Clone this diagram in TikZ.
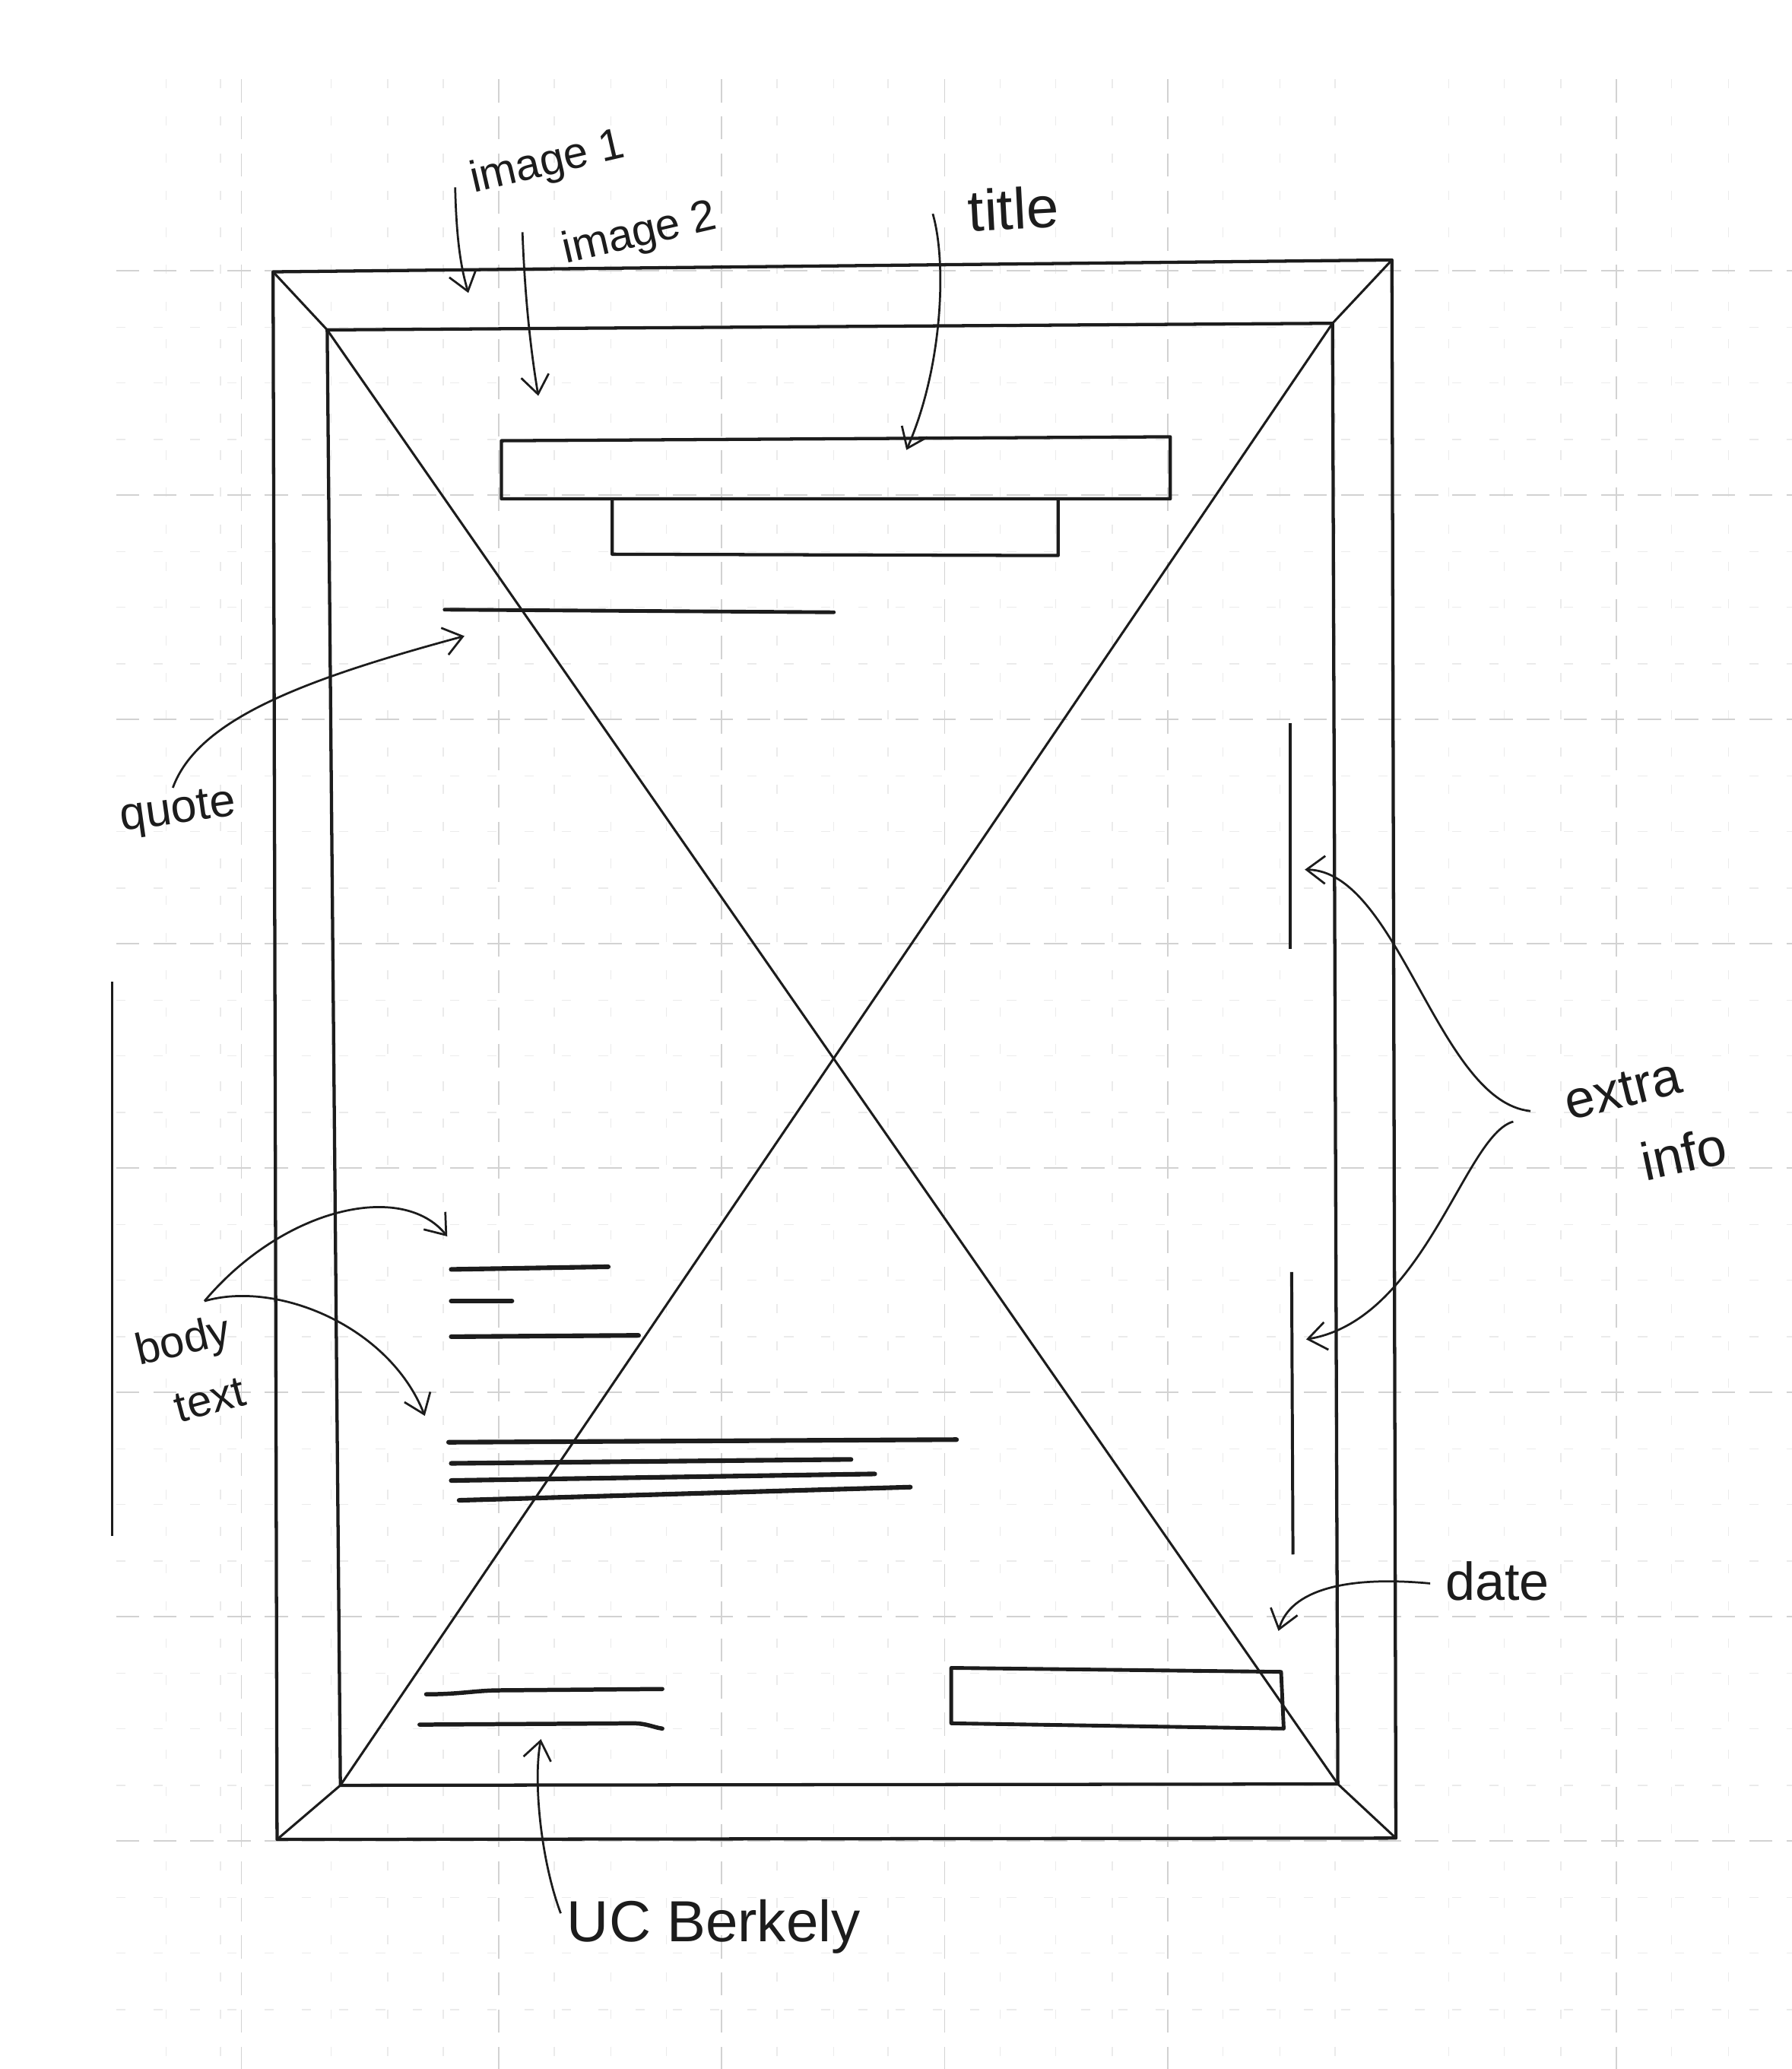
\documentclass[tikz,border=0pt]{standalone}
\usepackage{fontspec}
\setmainfont{Liberation Sans}
\usetikzlibrary{arrows.meta}
\definecolor{ink}{HTML}{1C1C1C}
\definecolor{gridc}{HTML}{D2D2D2}
\definecolor{gridm}{HTML}{EBEBEB}
\begin{document}
\begin{tikzpicture}[x=0.01cm,y=-0.01cm,
  frame/.style={draw=ink,line width=0.7pt,line join=round},
  xline/.style={draw=ink,line width=0.5pt},
  bar/.style={draw=ink,line width=1.0pt,line cap=round},
  pen/.style={draw=ink,line width=0.45pt,-{Straight Barb[length=4pt,width=6pt]}},
  lbl/.style={text=ink,inner sep=0pt},
  gridmaj/.style={draw=gridc,line width=0.25pt,dash pattern=on 5pt off 3pt},
  gridmin/.style={draw=gridm,line width=0.25pt,dash pattern=on 2pt off 6pt}]

\useasboundingbox (0,0) rectangle (1358,1568);
\fill[white] (0,0) rectangle (1358,1568);

% faint graph-paper grid
\foreach \x in {126,167,251,294,336,420,463,505,589,632,673,758,800,843,927,970,1012,1098,1140,1183,1267,1310}
  \draw[gridmin] (\x,60) -- (\x,1568);
\foreach \y in {248,290,333,418,460,503,588,630,673,758,800,843,928,970,1013,1098,1140,1183,1268,1310,1353,1438,1480,1523}
  \draw[gridmin] (88,\y) -- (1358,\y);
\foreach \x in {183,378,547,716,885,1225}
  \draw[gridmaj] (\x,60) -- (\x,1568);
\foreach \y in {205,375,545,715,885,1055,1225,1395}
  \draw[gridmaj] (88,\y) -- (1358,\y);

% paper edge line
\coordinate (e1) at (85,744);
\coordinate (e2) at (85,1164);
\draw[ink,line width=0.45pt] (e1) -- (e2);

% frame corners
\coordinate (o1) at (207,206);
\coordinate (o2) at (1055,197);
\coordinate (o3) at (1058,1393);
\coordinate (o4) at (210,1394);
\coordinate (i1) at (248,250);
\coordinate (i2) at (1010,245);
\coordinate (i3) at (1014,1352);
\coordinate (i4) at (258,1353);

\draw[frame] (o1) -- (o2) -- (o3) -- (o4) -- cycle;
\draw[frame] (i1) -- (i2) -- (i3) -- (i4) -- cycle;
\draw[xline] (o1) -- (i1);
\draw[xline] (o2) -- (i2);
\draw[xline] (o3) -- (i3);
\draw[xline] (o4) -- (i4);
\draw[xline] (i1) -- (i3);
\draw[xline] (i2) -- (i4);

% title boxes
\coordinate (t1) at (380,334);
\coordinate (t2) at (887,331);
\coordinate (t3) at (887,378);
\coordinate (t4) at (380,378);
\draw[frame] (t1) -- (t2) -- (t3) -- (t4) -- cycle;
\coordinate (s1) at (464,378);
\coordinate (s2) at (464,420);
\coordinate (s3) at (802,421);
\coordinate (s4) at (802,378);
\draw[frame] (s1) -- (s2) -- (s3) -- (s4);

% quote line
\coordinate (q1) at (337,462);
\coordinate (q2) at (632,464);
\draw[bar,line width=0.8pt] (q1) -- (q2);

% extra info bars
\coordinate (x1) at (978,548);
\coordinate (x2) at (978,719);
\coordinate (x3) at (979,964);
\coordinate (x4) at (980,1178);
\draw[ink,line width=0.65pt] (x1) -- (x2);
\draw[ink,line width=0.65pt] (x3) -- (x4);

% body text lines
\coordinate (b1a) at (342,962); \coordinate (b1b) at (461,960);
\coordinate (b2a) at (342,986); \coordinate (b2b) at (388,986);
\coordinate (b3a) at (342,1013); \coordinate (b3b) at (484,1012);
\coordinate (b4a) at (340,1093); \coordinate (b4b) at (725,1091);
\coordinate (b5a) at (342,1109); \coordinate (b5b) at (645,1106);
\coordinate (b6a) at (342,1122); \coordinate (b6b) at (663,1117);
\coordinate (b7a) at (348,1137); \coordinate (b7b) at (690,1127);
\foreach \n in {1,...,7} \draw[bar] (b\n a) -- (b\n b);

% UC Berkely lines
\coordinate (u1a) at (323,1284); \coordinate (u1m) at (380,1281); \coordinate (u1b) at (502,1280);
\coordinate (u2a) at (318,1307); \coordinate (u2m) at (480,1306); \coordinate (u2b) at (502,1310);
\draw[bar,line width=0.9pt] (u1a) .. controls (350,1284) and (360,1281) .. (u1m) -- (u1b);
\draw[bar,line width=0.9pt] (u2a) -- (u2m) .. controls (490,1306) and (495,1309) .. (u2b);

% date box
\coordinate (d1) at (721,1264);
\coordinate (d2) at (971,1267);
\coordinate (d3) at (973,1310);
\coordinate (d4) at (721,1306);
\draw[frame,line width=0.8pt] (d1) -- (d2) -- (d3) -- (d4) -- cycle;

% labels
\node[lbl,rotate=13,font=\fontsize{9.5}{11}\selectfont] (limg1) at (415,124) {image 1};
\node[lbl,rotate=13,font=\fontsize{9.5}{11}\selectfont] (limg2) at (485,178) {image 2};
\node[lbl,rotate=3,font=\fontsize{12.5}{14}\selectfont] (ltitle) at (768,158) {title};
\node[lbl,rotate=8,font=\fontsize{10}{12}\selectfont] (lquote) at (135,616) {quote};
\node[lbl,rotate=14,font=\fontsize{11.5}{13}\selectfont] (lextra) at (1230,826) {extra};
\node[lbl,rotate=12,font=\fontsize{11.5}{13}\selectfont] (linfo) at (1276,874) {info};
\node[lbl,rotate=13,font=\fontsize{9.5}{11}\selectfont] (lbody) at (139,1018) {body};
\node[lbl,rotate=15,font=\fontsize{9.5}{11}\selectfont] (ltext) at (159,1061) {text};
\node[lbl,font=\fontsize{11.5}{13}\selectfont] (ldate) at (1135,1198) {date};
\node[lbl,font=\fontsize{12.5}{14}\selectfont] (lucb) at (541,1460) {UC Berkely};

% arrows
\coordinate (a1s) at (345,142);  \coordinate (a1e) at (355,222);
\draw[pen] (a1s) .. controls (346,185) and (350,205) .. (a1e);
\coordinate (a2s) at (396,176);  \coordinate (a2e) at (408,300);
\draw[pen] (a2s) .. controls (398,230) and (403,270) .. (a2e);
\coordinate (a3s) at (707,162);  \coordinate (a3e) at (687,341);
\draw[pen] (a3s) .. controls (718,200) and (714,280) .. (a3e);
\coordinate (a4s) at (131,597);  \coordinate (a4e) at (352,482);
\draw[pen] (a4s) .. controls (150,545) and (230,515) .. (a4e);
\coordinate (a5s) at (1160,842); \coordinate (a5e) at (989,659);
\draw[pen] (a5s) .. controls (1090,835) and (1060,660) .. (a5e);
\coordinate (a6s) at (1147,850); \coordinate (a6e) at (990,1015);
\draw[pen] (a6s) .. controls (1110,860) and (1080,1000) .. (a6e);
\coordinate (a7s) at (155,986);  \coordinate (a7e) at (339,937);
\draw[pen] (a7s) .. controls (215,915) and (305,895) .. (a7e);
\coordinate (a8e) at (322,1073);
\draw[pen] (a7s) .. controls (210,970) and (295,1005) .. (a8e);
\coordinate (a9s) at (1084,1200); \coordinate (a9e) at (969,1236);
\draw[pen] (a9s) .. controls (1020,1194) and (978,1205) .. (a9e);
\coordinate (a10s) at (425,1450); \coordinate (a10e) at (410,1318);
\draw[pen] (a10s) .. controls (410,1410) and (404,1350) .. (a10e);
\end{tikzpicture}
\end{document}
